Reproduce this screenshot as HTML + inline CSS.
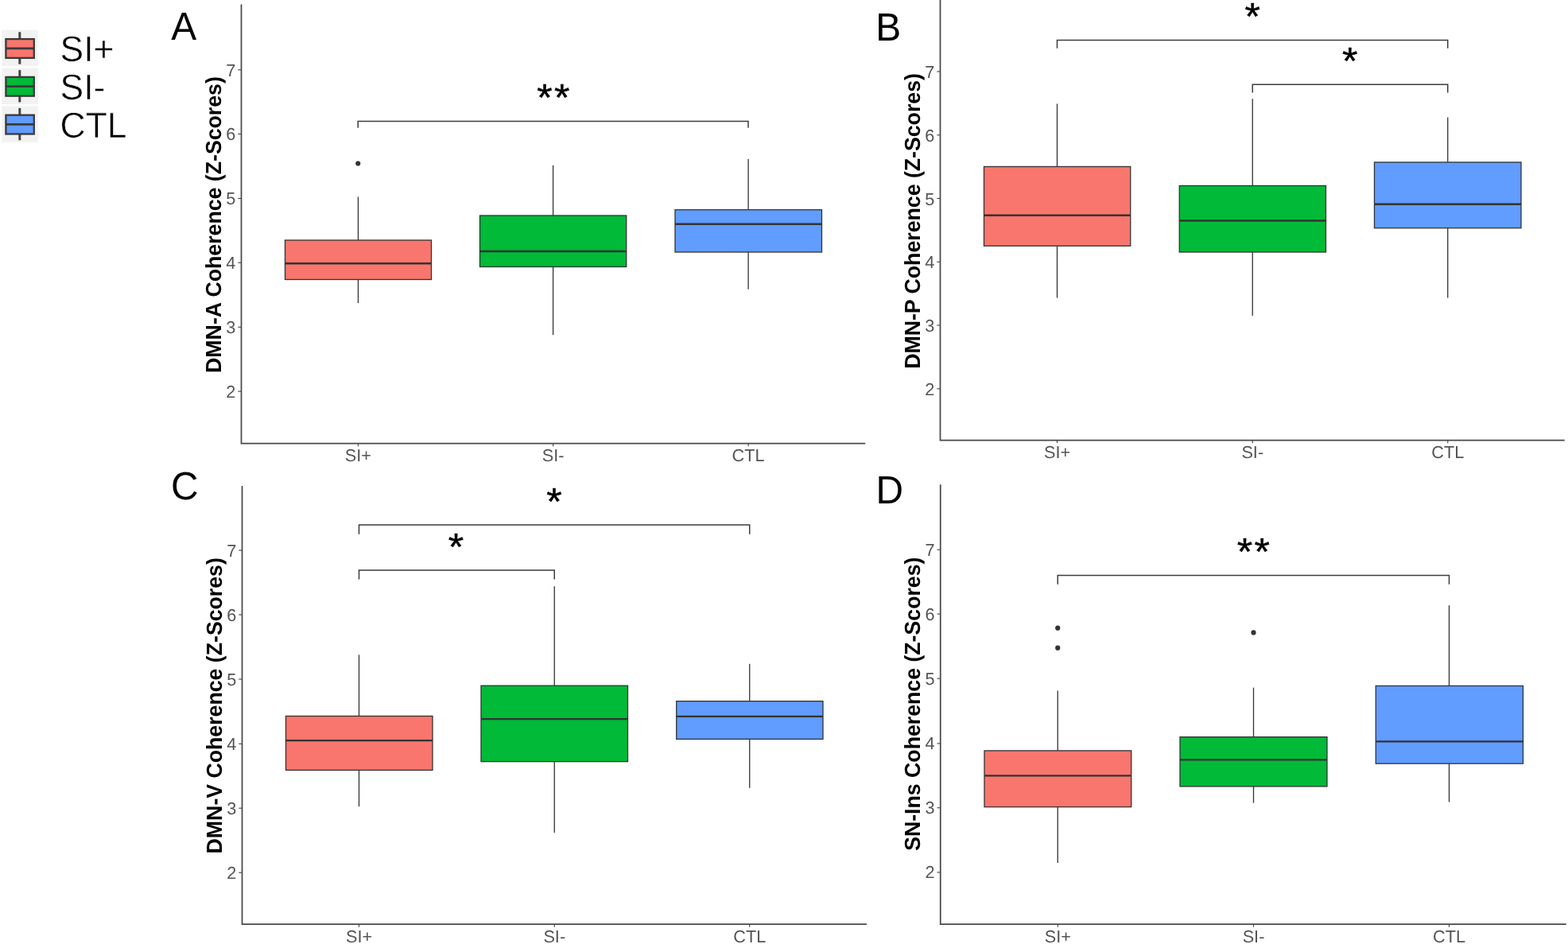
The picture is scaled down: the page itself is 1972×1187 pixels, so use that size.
<!DOCTYPE html>
<html lang="en"><head><meta charset="utf-8"><title>Network coherence by group</title>
<style>
html,body{margin:0;padding:0;background:#fff;}
body{width:1972px;height:1187px;overflow:hidden;}
svg{display:block;}
text{font-family:"Liberation Sans",sans-serif;text-rendering:geometricPrecision;}
.tk{font-size:21.7px;fill:#545454;}
.yl{font-size:26.7px;font-weight:bold;fill:#000;}
.pl{font-size:47.9px;fill:#000;}
.lg{font-size:44.4px;fill:#000;stroke:#fff;stroke-width:0.55;}
.st{font-size:50px;fill:#000;stroke:#000;stroke-width:0.5;stroke-linejoin:round;text-anchor:middle;}
.ax{stroke:#484848;stroke-width:1.75;fill:none;stroke-linecap:butt;}
.tl{stroke:#484848;stroke-width:1.15;fill:none;}
.wh{stroke:#333333;stroke-width:1.3;fill:none;}
.bx{stroke:#333333;stroke-width:1.3;}
.md{stroke:#333333;stroke-width:2.3;fill:none;}
.br{stroke:#3c3c3c;stroke-width:1.5;fill:none;}
.ot{fill:#333333;}
</style></head><body>
<svg xmlns="http://www.w3.org/2000/svg" width="1972" height="1187" viewBox="0 0 1972 1187">
<rect x="0" y="0" width="1972" height="1187" fill="#ffffff"/>
<g id="figure">
<g id="legend">
<rect x="2.2" y="37.7" width="45.6" height="45.5" fill="#F2F2F2"/>
<line x1="24.8" y1="40.3" x2="24.8" y2="80.7" stroke="#444" stroke-width="3"/>
<rect x="7.4" y="49.1" width="35.4" height="23.8" fill="#F8766D" stroke="#3a3a3a" stroke-width="2.3"/>
<line x1="7.4" y1="60.8" x2="42.8" y2="60.8" stroke="#3a3a3a" stroke-width="2.8"/>
<text class="lg" transform="translate(75.6 76.9) scale(1 1.02)">SI+</text>
<rect x="2.2" y="85.5" width="45.6" height="45.5" fill="#F2F2F2"/>
<line x1="24.8" y1="88.1" x2="24.8" y2="128.5" stroke="#444" stroke-width="3"/>
<rect x="7.4" y="96.9" width="35.4" height="23.8" fill="#00BA38" stroke="#3a3a3a" stroke-width="2.3"/>
<line x1="7.4" y1="108.6" x2="42.8" y2="108.6" stroke="#3a3a3a" stroke-width="2.8"/>
<text class="lg" transform="translate(75.6 124.7) scale(1 1.02)">SI-</text>
<rect x="2.2" y="133.3" width="45.6" height="45.5" fill="#F2F2F2"/>
<line x1="24.8" y1="135.9" x2="24.8" y2="176.3" stroke="#444" stroke-width="3"/>
<rect x="7.4" y="144.7" width="35.4" height="23.8" fill="#619CFF" stroke="#3a3a3a" stroke-width="2.3"/>
<line x1="7.4" y1="156.4" x2="42.8" y2="156.4" stroke="#3a3a3a" stroke-width="2.8"/>
<text class="lg" transform="translate(75.6 172.5) scale(1 1.02)">CTL</text>
</g>
<g id="panel-A">
<text class="pl" transform="translate(215.2 50.3) scale(1 1.03)">A</text>
<text class="yl" transform="translate(277.6 468.9) rotate(-90) scale(1 1.03)">DMN-A Coherence (Z-Scores)</text>
<g transform="translate(0 0)">
<line class="wh" x1="450.45" y1="247.5" x2="450.45" y2="302"/>
<line class="wh" x1="450.45" y1="351.5" x2="450.45" y2="381"/>
<rect class="bx" x="358.5" y="302" width="184" height="49.5" fill="#F8766D"/>
<line class="md" x1="358.5" y1="331.25" x2="542.5" y2="331.25"/>
<line class="wh" x1="695.6" y1="208" x2="695.6" y2="271"/>
<line class="wh" x1="695.6" y1="335.5" x2="695.6" y2="421.25"/>
<rect class="bx" x="603.5" y="271" width="184.25" height="64.5" fill="#00BA38"/>
<line class="md" x1="603.5" y1="316" x2="787.75" y2="316"/>
<line class="wh" x1="941.1" y1="200" x2="941.1" y2="263.75"/>
<line class="wh" x1="941.1" y1="317" x2="941.1" y2="363.75"/>
<rect class="bx" x="849" y="263.75" width="184.5" height="53.25" fill="#619CFF"/>
<line class="md" x1="849" y1="281.75" x2="1033.5" y2="281.75"/>
<circle class="ot" cx="450.25" cy="205.5" r="3.1"/>
<path class="br" d="M450.25 160.75 V152.5 H941 V160.75"/>
</g>
<text class="st" letter-spacing="2.3" transform="translate(696.9 138.5) scale(1 0.96)">**</text>
<path class="ax" d="M303.5 5.5 V557.7 H1088.25"/>
<line class="tl" x1="299.3" y1="87.8" x2="303.5" y2="87.8"/>
<text class="tk" text-anchor="end" transform="translate(296.3 95.6) scale(1 1)">7</text>
<line class="tl" x1="299.3" y1="168.5" x2="303.5" y2="168.5"/>
<text class="tk" text-anchor="end" transform="translate(296.3 176.3) scale(1 1)">6</text>
<line class="tl" x1="299.3" y1="249.5" x2="303.5" y2="249.5"/>
<text class="tk" text-anchor="end" transform="translate(296.3 257.3) scale(1 1)">5</text>
<line class="tl" x1="299.3" y1="330.3" x2="303.5" y2="330.3"/>
<text class="tk" text-anchor="end" transform="translate(296.3 338.1) scale(1 1)">4</text>
<line class="tl" x1="299.3" y1="411.3" x2="303.5" y2="411.3"/>
<text class="tk" text-anchor="end" transform="translate(296.3 419.1) scale(1 1)">3</text>
<line class="tl" x1="299.3" y1="492.1" x2="303.5" y2="492.1"/>
<text class="tk" text-anchor="end" transform="translate(296.3 499.9) scale(1 1)">2</text>
<line class="tl" x1="450.45" y1="557.7" x2="450.45" y2="561.3"/>
<text class="tk" text-anchor="middle" transform="translate(450.45 580.4) scale(1 1)">SI+</text>
<line class="tl" x1="695.6" y1="557.7" x2="695.6" y2="561.3"/>
<text class="tk" text-anchor="middle" transform="translate(695.6 580.4) scale(1 1)">SI-</text>
<line class="tl" x1="941.1" y1="557.7" x2="941.1" y2="561.3"/>
<text class="tk" text-anchor="middle" transform="translate(941.1 580.4) scale(1 1)">CTL</text>
</g>
<g id="panel-B">
<text class="pl" transform="translate(1101.2 50.9) scale(1 1.03)">B</text>
<text class="yl" transform="translate(1156.55 463.85) rotate(-90) scale(1 1.03)">DMN-P Coherence (Z-Scores)</text>
<g transform="translate(0 0)">
<line class="wh" x1="1329.5" y1="130.5" x2="1329.5" y2="209.5"/>
<line class="wh" x1="1329.5" y1="309.25" x2="1329.5" y2="374.5"/>
<rect class="bx" x="1237.5" y="209.5" width="184.25" height="99.75" fill="#F8766D"/>
<line class="md" x1="1237.5" y1="270.75" x2="1421.75" y2="270.75"/>
<line class="wh" x1="1575.25" y1="124.25" x2="1575.25" y2="233.5"/>
<line class="wh" x1="1575.25" y1="317" x2="1575.25" y2="397"/>
<rect class="bx" x="1483.25" y="233.5" width="184.25" height="83.5" fill="#00BA38"/>
<line class="md" x1="1483.25" y1="277.5" x2="1667.5" y2="277.5"/>
<line class="wh" x1="1820.75" y1="147.5" x2="1820.75" y2="204"/>
<line class="wh" x1="1820.75" y1="286.75" x2="1820.75" y2="374.5"/>
<rect class="bx" x="1728.5" y="204" width="184.5" height="82.75" fill="#619CFF"/>
<line class="md" x1="1728.5" y1="256.75" x2="1913" y2="256.75"/>
<path class="br" d="M1329.5 60.75 V50.5 H1820.75 V60.75"/>
<path class="br" d="M1575.25 116.5 V106.25 H1820.75 V116.5"/>
</g>
<text class="st" transform="translate(1575.25 37) scale(1 0.96)">*</text>
<text class="st" transform="translate(1697.75 92.8) scale(1 0.96)">*</text>
<path class="ax" d="M1182.5 0 V553.6 H1967.75"/>
<line class="tl" x1="1178.3" y1="90" x2="1182.5" y2="90"/>
<text class="tk" text-anchor="end" transform="translate(1175.3 98) scale(1 1)">7</text>
<line class="tl" x1="1178.3" y1="169.8" x2="1182.5" y2="169.8"/>
<text class="tk" text-anchor="end" transform="translate(1175.3 177.8) scale(1 1)">6</text>
<line class="tl" x1="1178.3" y1="249.5" x2="1182.5" y2="249.5"/>
<text class="tk" text-anchor="end" transform="translate(1175.3 257.5) scale(1 1)">5</text>
<line class="tl" x1="1178.3" y1="329.3" x2="1182.5" y2="329.3"/>
<text class="tk" text-anchor="end" transform="translate(1175.3 337.3) scale(1 1)">4</text>
<line class="tl" x1="1178.3" y1="409" x2="1182.5" y2="409"/>
<text class="tk" text-anchor="end" transform="translate(1175.3 417) scale(1 1)">3</text>
<line class="tl" x1="1178.3" y1="488.8" x2="1182.5" y2="488.8"/>
<text class="tk" text-anchor="end" transform="translate(1175.3 496.8) scale(1 1)">2</text>
<line class="tl" x1="1329.5" y1="553.6" x2="1329.5" y2="557.2"/>
<text class="tk" text-anchor="middle" transform="translate(1329.5 575.8) scale(1 1)">SI+</text>
<line class="tl" x1="1575.25" y1="553.6" x2="1575.25" y2="557.2"/>
<text class="tk" text-anchor="middle" transform="translate(1575.25 575.8) scale(1 1)">SI-</text>
<line class="tl" x1="1820.75" y1="553.6" x2="1820.75" y2="557.2"/>
<text class="tk" text-anchor="middle" transform="translate(1820.75 575.8) scale(1 1)">CTL</text>
</g>
<g id="panel-C">
<text class="pl" transform="translate(214.9 627.7) scale(1 1.03)">C</text>
<text class="yl" transform="translate(278.7 1073.4) rotate(-90) scale(1 1.03)">DMN-V Coherence (Z-Scores)</text>
<g transform="translate(0 0.4)">
<line class="wh" x1="451.5" y1="823" x2="451.5" y2="900"/>
<line class="wh" x1="451.5" y1="968" x2="451.5" y2="1013.75"/>
<rect class="bx" x="359.5" y="900" width="184.5" height="68" fill="#F8766D"/>
<line class="md" x1="359.5" y1="930.75" x2="544" y2="930.75"/>
<line class="wh" x1="697.25" y1="736.75" x2="697.25" y2="861.75"/>
<line class="wh" x1="697.25" y1="957.25" x2="697.25" y2="1046.5"/>
<rect class="bx" x="605" y="861.75" width="184.5" height="95.5" fill="#00BA38"/>
<line class="md" x1="605" y1="903.75" x2="789.5" y2="903.75"/>
<line class="wh" x1="942.75" y1="834.25" x2="942.75" y2="881.25"/>
<line class="wh" x1="942.75" y1="929" x2="942.75" y2="990.25"/>
<rect class="bx" x="850.75" y="881.25" width="184.25" height="47.75" fill="#619CFF"/>
<line class="md" x1="850.75" y1="900.5" x2="1035" y2="900.5"/>
<path class="br" d="M451.5 671.25 V659.5 H942.75 V671.25"/>
<path class="br" d="M451.5 728 V716.5 H697.25 V728"/>
</g>
<text class="st" transform="translate(697.1 646.8) scale(1 0.96)">*</text>
<text class="st" transform="translate(573.6 704) scale(1 0.96)">*</text>
<path class="ax" d="M304.5 610.9 V1162.15 H1090"/>
<line class="tl" x1="300.3" y1="692" x2="304.5" y2="692"/>
<text class="tk" text-anchor="end" transform="translate(297.3 699.9) scale(1 1)">7</text>
<line class="tl" x1="300.3" y1="773" x2="304.5" y2="773"/>
<text class="tk" text-anchor="end" transform="translate(297.3 780.9) scale(1 1)">6</text>
<line class="tl" x1="300.3" y1="854" x2="304.5" y2="854"/>
<text class="tk" text-anchor="end" transform="translate(297.3 861.9) scale(1 1)">5</text>
<line class="tl" x1="300.3" y1="935.3" x2="304.5" y2="935.3"/>
<text class="tk" text-anchor="end" transform="translate(297.3 943.2) scale(1 1)">4</text>
<line class="tl" x1="300.3" y1="1016.2" x2="304.5" y2="1016.2"/>
<text class="tk" text-anchor="end" transform="translate(297.3 1024.1) scale(1 1)">3</text>
<line class="tl" x1="300.3" y1="1097.2" x2="304.5" y2="1097.2"/>
<text class="tk" text-anchor="end" transform="translate(297.3 1105.1) scale(1 1)">2</text>
<line class="tl" x1="451.5" y1="1162.15" x2="451.5" y2="1165.75"/>
<text class="tk" text-anchor="middle" transform="translate(451.5 1185) scale(1 1)">SI+</text>
<line class="tl" x1="697.25" y1="1162.15" x2="697.25" y2="1165.75"/>
<text class="tk" text-anchor="middle" transform="translate(697.25 1185) scale(1 1)">SI-</text>
<line class="tl" x1="942.75" y1="1162.15" x2="942.75" y2="1165.75"/>
<text class="tk" text-anchor="middle" transform="translate(942.75 1185) scale(1 1)">CTL</text>
</g>
<g id="panel-D">
<text class="pl" transform="translate(1101.4 633.2) scale(1 1.03)">D</text>
<text class="yl" transform="translate(1156.9 1069.85) rotate(-90) scale(1 1.03)">SN-Ins Coherence (Z-Scores)</text>
<g transform="translate(0 0.4)">
<line class="wh" x1="1330.25" y1="868" x2="1330.25" y2="943.5"/>
<line class="wh" x1="1330.25" y1="1014.25" x2="1330.25" y2="1084.5"/>
<rect class="bx" x="1238" y="943.5" width="184.75" height="70.75" fill="#F8766D"/>
<line class="md" x1="1238" y1="975" x2="1422.75" y2="975"/>
<line class="wh" x1="1576.5" y1="864.25" x2="1576.5" y2="926.25"/>
<line class="wh" x1="1576.5" y1="988.5" x2="1576.5" y2="1009.25"/>
<rect class="bx" x="1484" y="926.25" width="185" height="62.25" fill="#00BA38"/>
<line class="md" x1="1484" y1="955" x2="1669" y2="955"/>
<line class="wh" x1="1822.5" y1="760.75" x2="1822.5" y2="862"/>
<line class="wh" x1="1822.5" y1="959.75" x2="1822.5" y2="1008"/>
<rect class="bx" x="1730.25" y="862" width="185.25" height="97.75" fill="#619CFF"/>
<line class="md" x1="1730.25" y1="932" x2="1915.5" y2="932"/>
<circle class="ot" cx="1330.25" cy="789.25" r="3.1"/>
<circle class="ot" cx="1330.25" cy="814.25" r="3.1"/>
<circle class="ot" cx="1576.5" cy="795" r="3.1"/>
<path class="br" d="M1330.25 734.25 V723 H1822.5 V734.25"/>
</g>
<text class="st" letter-spacing="2.3" transform="translate(1577.4 709.6) scale(1 0.96)">**</text>
<path class="ax" d="M1182.75 609.15 V1162.15 H1969.75"/>
<line class="tl" x1="1178.55" y1="691.2" x2="1182.75" y2="691.2"/>
<text class="tk" text-anchor="end" transform="translate(1175.55 698.7) scale(1 1)">7</text>
<line class="tl" x1="1178.55" y1="772" x2="1182.75" y2="772"/>
<text class="tk" text-anchor="end" transform="translate(1175.55 779.5) scale(1 1)">6</text>
<line class="tl" x1="1178.55" y1="853.2" x2="1182.75" y2="853.2"/>
<text class="tk" text-anchor="end" transform="translate(1175.55 860.7) scale(1 1)">5</text>
<line class="tl" x1="1178.55" y1="934.9" x2="1182.75" y2="934.9"/>
<text class="tk" text-anchor="end" transform="translate(1175.55 942.4) scale(1 1)">4</text>
<line class="tl" x1="1178.55" y1="1015.7" x2="1182.75" y2="1015.7"/>
<text class="tk" text-anchor="end" transform="translate(1175.55 1023.2) scale(1 1)">3</text>
<line class="tl" x1="1178.55" y1="1096.9" x2="1182.75" y2="1096.9"/>
<text class="tk" text-anchor="end" transform="translate(1175.55 1104.4) scale(1 1)">2</text>
<line class="tl" x1="1330.25" y1="1162.15" x2="1330.25" y2="1165.75"/>
<text class="tk" text-anchor="middle" transform="translate(1330.25 1185) scale(1 1)">SI+</text>
<line class="tl" x1="1576.5" y1="1162.15" x2="1576.5" y2="1165.75"/>
<text class="tk" text-anchor="middle" transform="translate(1576.5 1185) scale(1 1)">SI-</text>
<line class="tl" x1="1822.5" y1="1162.15" x2="1822.5" y2="1165.75"/>
<text class="tk" text-anchor="middle" transform="translate(1822.5 1185) scale(1 1)">CTL</text>
</g>
</g>
</svg></body></html>
